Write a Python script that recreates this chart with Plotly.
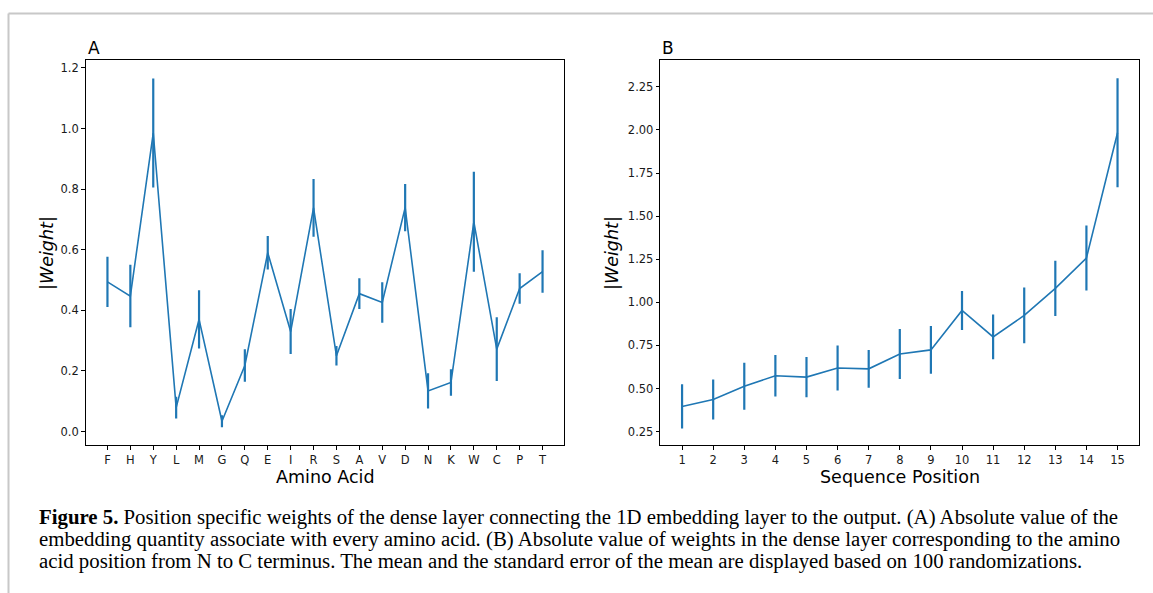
import plotly.graph_objects as go

W, H = 1153, 593

# ---- data ----
amino_acids = ["F", "H", "Y", "L", "M", "G", "Q", "E", "I", "R",
               "S", "A", "V", "D", "N", "K", "W", "C", "P", "T"]
aa_mean = [0.494, 0.447, 0.985, 0.079, 0.370, 0.034, 0.218, 0.590, 0.330, 0.738,
           0.250, 0.455, 0.426, 0.739, 0.134, 0.162, 0.692, 0.272, 0.472, 0.528]
aa_err = [0.083, 0.103, 0.180, 0.036, 0.096, 0.020, 0.054, 0.055, 0.074, 0.095,
          0.032, 0.051, 0.067, 0.078, 0.058, 0.044, 0.165, 0.105, 0.050, 0.070]

positions = list(range(1, 16))
pos_mean = [0.396, 0.436, 0.513, 0.574, 0.566, 0.619, 0.614, 0.700, 0.724, 0.953,
            0.799, 0.924, 1.081, 1.257, 1.984]
pos_err = [0.128, 0.116, 0.136, 0.121, 0.117, 0.130, 0.110, 0.145, 0.139, 0.113,
           0.130, 0.162, 0.160, 0.188, 0.316]

a_yticks = [0.0, 0.2, 0.4, 0.6, 0.8, 1.0, 1.2]
b_yticks = [0.25, 0.50, 0.75, 1.00, 1.25, 1.50, 1.75, 2.00, 2.25]

caption_lines = [
    "<b>Figure 5.</b> Position specific weights of the dense layer connecting the 1D embedding layer to the output. (A) Absolute value of the",
    "embedding quantity associate with every amino acid. (B) Absolute value of weights in the dense layer corresponding to the amino",
    "acid position from N to C terminus. The mean and the standard error of the mean are displayed based on 100 randomizations.",
]

BLUE = "#1f77b4"


def px(x):
    return x / W


def py(y):
    return 1 - y / H


fig = go.Figure()
fig.add_trace(go.Scatter(
    x=amino_acids, y=aa_mean, mode="lines",
    line=dict(color=BLUE, width=1.6),
    error_y=dict(type="data", array=aa_err, width=0, thickness=2.2, color=BLUE),
    xaxis="x", yaxis="y", showlegend=False, hoverinfo="skip"))
fig.add_trace(go.Scatter(
    x=positions, y=pos_mean, mode="lines",
    line=dict(color=BLUE, width=1.6),
    error_y=dict(type="data", array=pos_err, width=0, thickness=2.2, color=BLUE),
    xaxis="x2", yaxis="y2", showlegend=False, hoverinfo="skip"))

tickfont = dict(family="DejaVu Sans", size=11.5, color="#1a1a1a")
axis_common = dict(showline=True, mirror=True, linecolor="black", linewidth=1.1,
                   ticks="outside", ticklen=3.5, tickwidth=1, tickcolor="black",
                   showgrid=False, zeroline=False, tickfont=tickfont)

top, bottom = 60.3, 445.2
fig.update_layout(
    width=W, height=H,
    margin=dict(l=0, r=0, t=0, b=0),
    paper_bgcolor="white", plot_bgcolor="white",
    xaxis=dict(domain=[px(85.7), px(564.3)], anchor="y", type="category",
               categoryorder="array", categoryarray=amino_acids,
               range=[-0.95, 19.95], **axis_common),
    yaxis=dict(domain=[py(bottom), py(top)], anchor="x", range=[-0.045, 1.225],
               tickvals=a_yticks, tickformat=".1f", **axis_common),
    xaxis2=dict(domain=[px(660.3), px(1139.3)], anchor="y2", range=[0.3, 15.7],
                tickvals=positions, **axis_common),
    yaxis2=dict(domain=[py(bottom), py(top)], anchor="x2", range=[0.171, 2.404],
                tickvals=b_yticks, tickformat=".2f", **axis_common),
)

lab_font = dict(family="DejaVu Sans", size=17.5, color="black")
ann = []
# panel letters
ann.append(dict(text="A", x=px(85.5), y=py(47.5), xanchor="left", yanchor="middle",
                font=dict(family="DejaVu Sans", size=17, color="black")))
ann.append(dict(text="B", x=px(660.3), y=py(47.5), xanchor="left", yanchor="middle",
                font=dict(family="DejaVu Sans", size=17, color="black")))
# x labels
ann.append(dict(text="Amino Acid", x=px(325), y=py(477), xanchor="center", yanchor="middle",
                font=lab_font))
ann.append(dict(text="Sequence Position", x=px(900), y=py(477), xanchor="center",
                yanchor="middle", font=lab_font))
# y labels
ann.append(dict(text="|<i>Weight</i>|", x=px(47), y=py(253), xanchor="center",
                yanchor="middle", textangle=-90, font=lab_font))
ann.append(dict(text="|<i>Weight</i>|", x=px(612), y=py(253), xanchor="center",
                yanchor="middle", textangle=-90, font=lab_font))
# caption
for i, line in enumerate(caption_lines):
    ann.append(dict(text=line, x=px(37), y=py(517 + 22 * i), xanchor="left",
                    yanchor="middle",
                    font=dict(family="Liberation Serif", size=20.8, color="black")))
for a in ann:
    a.update(xref="paper", yref="paper", showarrow=False)
fig.update_layout(annotations=ann)

# page frame (light gray)
fig.update_layout(shapes=[
    dict(type="line", xref="paper", yref="paper", x0=px(8.5), x1=1, y0=py(13.5), y1=py(13.5),
         line=dict(color="#c8c8c8", width=2)),
    dict(type="line", xref="paper", yref="paper", x0=px(8.5), x1=px(8.5), y0=py(13.5), y1=0,
         line=dict(color="#c8c8c8", width=2)),
])

fig.write_html("out.html")
